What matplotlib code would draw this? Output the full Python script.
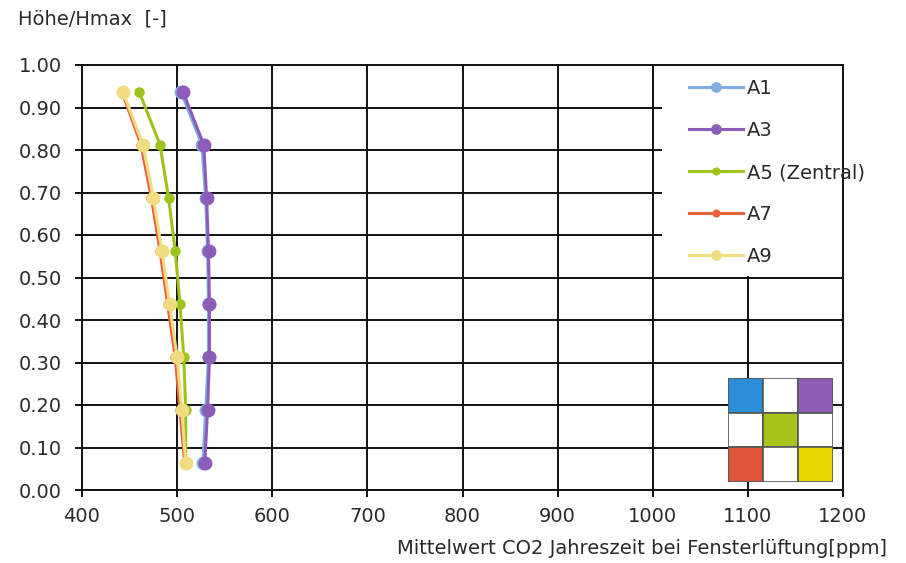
import numpy as np
import matplotlib
matplotlib.use('Agg')
import matplotlib.pyplot as plt
from matplotlib.patches import Rectangle

# relative height levels (Höhe/Hmax)
HEIGHT = [0.9375, 0.8125, 0.6875, 0.5625, 0.4375, 0.3125, 0.1875, 0.0625]

# mean CO2 per sensor string [ppm]
A1 = [504, 526, 530, 532, 533, 533, 530, 527]
A3 = [506, 528, 531, 533, 534, 534, 532, 529]
A5 = [460, 482, 491, 498, 503, 507, 509, 509]
A7 = [442, 462, 473, 482, 490, 498, 503, 508]
A9 = [443, 464, 475, 484, 492, 500, 505, 509]

LABELS = ['A1', 'A3', 'A5 (Zentral)', 'A7', 'A9']
COLORS = ['#7fb0e3', '#8d5cb8', '#9ec41c', '#e8603c', '#f2dc80']
MSIZE = [9, 9, 6.5, 6.5, 9]

# floor plan key colours (3x3)
KEY = [['#2a8fd8', 'white', '#8e5db5'],
       ['white', '#a6c41a', 'white'],
       ['#e0553a', 'white', '#e9d800']]

FS = 14
plt.rcParams['font.family'] = 'DejaVu Sans'
plt.rcParams['font.size'] = FS
plt.rcParams['text.color'] = '#2a2a2a'

fig = plt.figure(figsize=(9.06, 5.63), dpi=100)
ax = fig.add_axes([82/906, 1 - 490/563, 761/906, 425/563])

series = [A1, A3, A5, A7, A9]
for vals, lab, col, ms in zip(series, LABELS, COLORS, MSIZE):
    ax.plot(vals, HEIGHT, color=col, lw=2.2, marker='o', ms=ms, label=lab,
            zorder=3)

ax.set_xlim(400, 1200)
ax.set_ylim(0, 1.0)
ax.set_xticks(np.arange(400, 1201, 100))
ax.set_yticks(np.arange(0, 1.01, 0.1))
ax.set_yticklabels(['%.2f' % v for v in np.arange(0, 1.01, 0.1)])
ax.grid(True, color='#111111', lw=1.4, zorder=1)
ax.set_axisbelow(True)
for s in ax.spines.values():
    s.set_color('#111111')
    s.set_linewidth(1.4)
ax.tick_params(direction='out', length=5, width=1.4, color='#111111',
               labelcolor='#2a2a2a', labelsize=FS)
ax.tick_params(axis='y', pad=9.5)
ax.tick_params(axis='x', pad=7)

# white box behind legend, hides grid there
ax.add_patch(Rectangle((0.762, 0.503), 0.25, 0.494, transform=ax.transAxes,
                       facecolor='white', edgecolor='none', zorder=2,
                       clip_on=False))
leg = ax.legend(loc='upper left', bbox_to_anchor=(0.787, 0.986), frameon=False,
                handlelength=2.8, handletextpad=0.2, labelspacing=1.19,
                borderaxespad=0, markerscale=0.75, fontsize=FS)
leg.set_zorder(4)

# floor plan key
kax = fig.add_axes([728/906, 1 - 482/563, 105/906, 104/563])
kax.set_xlim(0, 3)
kax.set_ylim(0, 3)
for r in range(3):
    for c in range(3):
        kax.add_patch(Rectangle((c, 2 - r), 1, 1, facecolor=KEY[r][c],
                                edgecolor='#555555', lw=1.2))
kax.axis('off')

fig.text(18/906, 1 - 19/563, 'Höhe/Hmax  [-]', ha='left', va='center',
         fontsize=FS)
fig.text(887/906, 1 - 549/563,
         'Mittelwert CO2 Jahreszeit bei Fensterlüftung[ppm]',
         ha='right', va='center', fontsize=FS)

fig.savefig('out.png', dpi=100, facecolor='white')
